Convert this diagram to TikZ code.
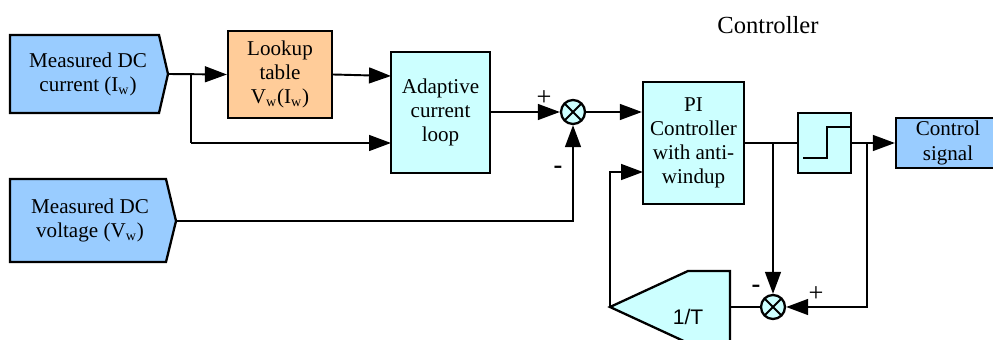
\documentclass[tikz,border=0pt]{standalone}
\usepackage{fontspec}
\setmainfont{Liberation Serif}
\newfontfamily\gainfont{Liberation Sans}
\usetikzlibrary{arrows.meta}
\definecolor{inblue}{HTML}{99CCFF}
\definecolor{lutorange}{HTML}{FFCC99}
\definecolor{blkcyan}{HTML}{CCFFFF}
\tikzset{
  sig/.style={line width=1.1pt,-{Triangle[length=12.5pt,width=9pt]}},
  wire/.style={line width=1.1pt},
  blk/.style={draw,line width=1.3pt,fill=blkcyan,inner sep=0pt,align=center},
  sumnode/.style={circle,draw,line width=1.3pt,fill=blkcyan,minimum size=0.48cm,inner sep=0pt,
    path picture={\draw[line width=1.1pt] (path picture bounding box.north west) -- (path picture bounding box.south east)
      (path picture bounding box.north east) -- (path picture bounding box.south west);}},
  lbl/.style={inner sep=0pt,font=\fontsize{15}{16}\selectfont}
}
\begin{document}
\begin{tikzpicture}[x=0.02cm,y=-0.02cm,font=\fontsize{12}{13.7}\selectfont]
\clip (0,0) rectangle (993,340);
% inputs
\draw[line width=1.3pt,fill=inblue] (10,35) -- (159,35) -- (168,74) -- (159,113) -- (10,113) -- cycle;
\node[align=center] (curtxt) at (88,74) {Measured DC\\current (I\textsubscript{w})};
\coordinate (curtip) at (168,74);
\draw[line width=1.3pt,fill=inblue] (10,179) -- (166,179) -- (176,221) -- (166,262) -- (10,262) -- cycle;
\node[align=center] (voltxt) at (90,220) {Measured DC\\voltage (V\textsubscript{w})};
\coordinate (voltip) at (176,221);

% blocks
\node[blk,fill=lutorange,minimum width=2.08cm,minimum height=1.74cm] (lookup) at (280,74.5) {Lookup\\table\\V\textsubscript{w}(I\textsubscript{w})};
\node[blk,minimum width=1.98cm,minimum height=2.42cm] (adapt) at (440.5,112.5) {Adaptive\\current\\loop};
\node[sumnode] (sumA) at (573,112) {};
\node[blk,minimum width=2.02cm,minimum height=2.44cm] (pi) at (693.5,143) {PI\\Controller\\with anti-\\windup};
\node[blk,minimum width=1.06cm,minimum height=1.2cm] (sat) at (824.5,143) {};
\draw[wire] (803,158) -- (827,158) -- (827,127) -- (850,127);
\node[blk,fill=inblue,minimum width=2.08cm,minimum height=1.0cm] (ctrl) at (948,143) {Control\\signal};
\node[sumnode] (sumB) at (773,307) {};
\draw[line width=1.3pt,fill=blkcyan] (610,307) -- (688,271) -- (730,271) -- (730,343) -- (688,343) -- cycle;
\node[font=\gainfont\fontsize{12}{14}\selectfont] (gain) at (688,317) {1/T};
\coordinate (gainR) at (730,307);
\coordinate (gainTip) at (610,307);
\node[font=\fontsize{14}{16}\selectfont] (title) at (768,25) {Controller};

% connections
\coordinate (brA) at (191,74);
\coordinate (inA) at (391,76);
\coordinate (inB) at (391,143);
\draw[sig] (curtip) -- (lookup.west);
\draw[wire] (brA) -- (191,143);
\draw[sig] (191,143) -- (inB);
\draw[sig] (lookup.east) -- (inA);
\draw[sig] (adapt.east |- sumA) -- (sumA.west);
\draw[sig] (voltip) -| (sumA.south);
\draw[sig] (sumA.east) -- (sumA -| pi.west);
\draw[wire] (pi.east) -- (sat.west);
\coordinate (brC) at (773,143);
\draw[sig] (brC) -- (sumB.north);
\draw[sig] (sat.east) -- (ctrl.west);
\coordinate (brD) at (867,143);
\draw[sig] (brD) |- (sumB.east);
\draw[wire] (sumB.west) -- (gainR);
\coordinate (piB) at (643,172);
\draw[sig] (gainTip) |- (piB);

% signs
\node[lbl] (plusA) at (544,98) {+};
\node[lbl] (minusA) at (558,170) {\textbf{-}};
\node[lbl] (minusB) at (756,289) {\textbf{-}};
\node[lbl] (plusB) at (816,294) {+};
\end{tikzpicture}
\end{document}
